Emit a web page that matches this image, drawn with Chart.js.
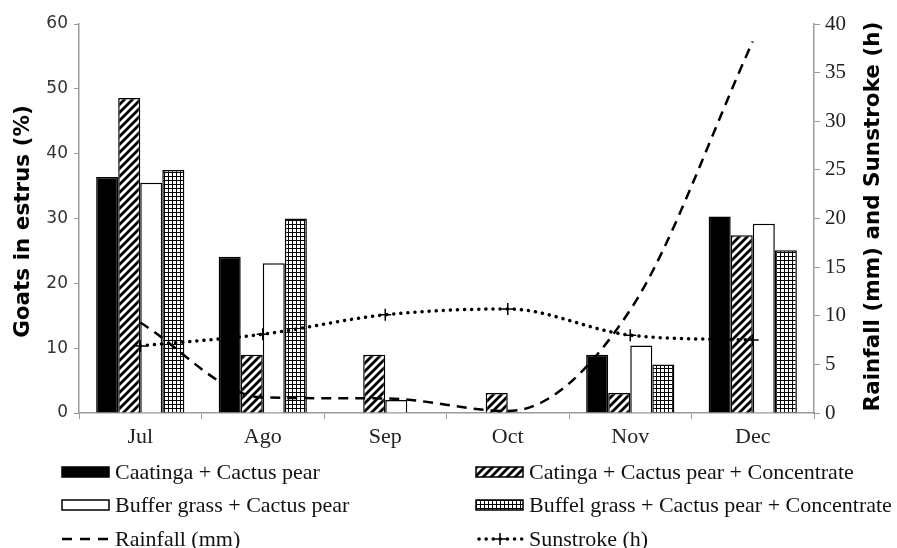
<!DOCTYPE html>
<html>
<head>
<meta charset="utf-8">
<script src="https://cdn.jsdelivr.net/npm/chart.js@4.4.1/dist/chart.umd.min.js"></script>
<style>
    html, body { margin: 0; padding: 0; background: #fff; }
    #chart { display: block; }
</style>
</head>
<body>
<canvas id="chart" width="897" height="548"></canvas>
<script>
// ================= DATA =================
const months = ["Jul", "Ago", "Sep", "Oct", "Nov", "Dec"];

const caatingaCactus = [36.4, 24.1, 0, 0, 9.0, 30.3];
const catingaCactusConc = [48.6, 9.0, 9.0, 3.1, 3.1, 27.4];
const bufferCactus = [35.5, 23.1, 2.0, 0, 10.4, 29.2];
const buffelCactusConc = [37.5, 30.0, 0, 0, 7.5, 25.1];

const rainfall = [9.3, 1.6, 1.5, 0.2, 10.6, 38.2];
const sunstroke = [6.9, 8.1, 10.1, 10.7, 8.0, 7.5];

const leftTicks = [0, 10, 20, 30, 40, 50, 60];
const rightTicks = [0, 5, 10, 15, 20, 25, 30, 35, 40];

// ================= PATTERNS =================
const canvas = document.getElementById("chart");
const ctx = canvas.getContext("2d");

function makeHatch() {
    const c = document.createElement("canvas");
    c.width = 8; c.height = 8;
    const g = c.getContext("2d");
    g.fillStyle = "#fff";
    g.fillRect(0, 0, 8, 8);
    g.strokeStyle = "#000";
    g.lineWidth = 2.8;
    g.beginPath();
    g.moveTo(-2, 10); g.lineTo(10, -2);
    g.moveTo(-2, 2); g.lineTo(2, -2);
    g.moveTo(6, 10); g.lineTo(10, 6);
    g.stroke();
    return ctx.createPattern(c, "repeat");
}

function makeGrid() {
    const c = document.createElement("canvas");
    c.width = 4; c.height = 4;
    const g = c.getContext("2d");
    g.fillStyle = "#fff";
    g.fillRect(0, 0, 4, 4);
    g.fillStyle = "#000";
    g.fillRect(0, 0, 4, 1);
    g.fillRect(0, 0, 1, 4);
    return ctx.createPattern(c, "repeat");
}

const hatch = makeHatch();
const grid = makeGrid();

// ================= LEGEND + TITLES =================
const axisGray = "#9a9a9a";

function drawSwatch(g, ds, x, y) {
    g.save();
    if (ds.type === "line") {
        g.strokeStyle = "#000";
        g.lineWidth = ds.borderWidth;
        g.lineCap = ds.borderCapStyle || "butt";
        g.setLineDash(ds.legendDash);
        g.beginPath();
        g.moveTo(x + (ds.pointStyle ? 3 : 0), y);
        g.lineTo(x + 47, y);
        g.stroke();
        if (ds.pointStyle === "cross") {
            g.setLineDash([]);
            g.lineWidth = 1.5;
            g.lineCap = "butt";
            g.beginPath();
            g.moveTo(x + 18, y); g.lineTo(x + 30, y);
            g.moveTo(x + 24, y - 6); g.lineTo(x + 24, y + 6);
            g.stroke();
        }
    } else {
        g.fillStyle = ds.backgroundColor;
        g.fillRect(x, y - 5, 47, 10);
        g.strokeStyle = "#000";
        g.lineWidth = 1.5;
        g.strokeRect(x, y - 5, 47, 10);
    }
    g.restore();
}

const extrasPlugin = {
    id: "extras",
    afterDraw(chart) {
        const g = chart.ctx;
        const area = chart.chartArea;
        const midY = (area.top + area.bottom) / 2;

        // axis titles (both read bottom to top)
        g.save();
        g.fillStyle = "#000";
        g.font = "bold 21.5px 'DejaVu Sans'";
        g.textAlign = "center";
        g.textBaseline = "middle";
        g.translate(23, midY + 3);
        g.rotate(-Math.PI / 2);
        g.fillText("Goats in estrus (%)", 0, 0);
        g.restore();

        g.save();
        g.fillStyle = "#000";
        g.font = "bold 21.5px 'DejaVu Sans'";
        g.textAlign = "center";
        g.textBaseline = "middle";
        g.translate(area.right + 59, midY - 2);
        g.rotate(-Math.PI / 2);
        g.fillText("Rainfall (mm) and Sunstroke (h)", 0, 0);
        g.restore();

        // legend, two columns
        const cols = [area.left - 17, area.left + 397];
        const rows = [area.bottom + 59, area.bottom + 92, area.bottom + 126];
        chart.data.datasets.forEach((ds, i) => {
            const x = cols[i % 2];
            const y = rows[Math.floor(i / 2)];
            drawSwatch(g, ds, x, y);
            g.save();
            g.fillStyle = "#111";
            g.font = "22px 'Liberation Serif'";
            g.textAlign = "left";
            g.textBaseline = "middle";
            g.fillText(ds.label, x + 53, y + 1);
            g.restore();
        });
    }
};

// ================= CHART =================
const barCommon = {
    type: "bar",
    borderColor: "#000",
    borderWidth: 1.5,
    yAxisID: "y",
    order: 2,
    categoryPercentage: 0.72,
    barPercentage: 1.0
};

new Chart(canvas, {
    type: "bar",
    data: {
        labels: months,
        datasets: [
            { ...barCommon, label: "Caatinga + Cactus pear", data: caatingaCactus, backgroundColor: "#000" },
            { ...barCommon, label: "Catinga + Cactus pear + Concentrate", data: catingaCactusConc, backgroundColor: hatch },
            { ...barCommon, label: "Buffer grass + Cactus pear", data: bufferCactus, backgroundColor: "#fff" },
            { ...barCommon, label: "Buffel grass + Cactus pear + Concentrate", data: buffelCactusConc, backgroundColor: grid },
            {
                type: "line",
                label: "Rainfall (mm)",
                data: rainfall,
                yAxisID: "y1",
                order: 1,
                borderColor: "#000",
                borderWidth: 2.5,
                borderDash: [10, 7],
                legendDash: [10, 8],
                cubicInterpolationMode: "monotone",
                pointRadius: 0,
                fill: false
            },
            {
                type: "line",
                label: "Sunstroke (h)",
                data: sunstroke,
                yAxisID: "y1",
                order: 1,
                borderColor: "#000",
                borderWidth: 3.5,
                borderCapStyle: "round",
                borderDash: [0.1, 7],
                legendDash: [0.1, 7],
                cubicInterpolationMode: "monotone",
                pointStyle: "cross",
                pointRadius: 6,
                pointBorderWidth: 1.5,
                pointBorderColor: "#000",
                fill: false
            }
        ]
    },
    options: {
        responsive: false,
        animation: false,
        layout: { padding: { left: 0, right: 0, top: 24, bottom: 95 } },
        plugins: {
            legend: { display: false },
            tooltip: { enabled: false }
        },
        scales: {
            x: {
                offset: true,
                afterFit: s => { s.height = 40; },
                grid: { display: true, drawOnChartArea: false, drawTicks: true, tickLength: 6, color: axisGray, offset: true },
                border: { color: axisGray, width: 1.5 },
                ticks: {
                    color: "#222",
                    padding: 5,
                    font: { family: "'Liberation Serif'", size: 22 },
                    maxRotation: 0
                }
            },
            y: {
                position: "left",
                min: 0,
                max: 60,
                afterFit: s => { s.width = 79; },
                afterBuildTicks: s => { s.ticks = leftTicks.map(v => ({ value: v })); },
                grid: { drawOnChartArea: false, drawTicks: true, tickLength: 5, color: axisGray },
                border: { color: axisGray, width: 1.5 },
                ticks: {
                    color: "#333",
                    padding: 6,
                    font: { family: "'DejaVu Sans'", size: 17 }
                }
            },
            y1: {
                position: "right",
                min: 0,
                max: 40,
                afterFit: s => { s.width = 83; },
                afterBuildTicks: s => { s.ticks = rightTicks.map(v => ({ value: v })); },
                grid: { drawOnChartArea: false, drawTicks: true, tickLength: 6, color: axisGray },
                border: { color: axisGray, width: 1.5 },
                ticks: {
                    color: "#222",
                    padding: 5,
                    font: { family: "'Liberation Serif'", size: 21 }
                }
            }
        }
    },
    plugins: [extrasPlugin]
});
</script>
</body>
</html>
